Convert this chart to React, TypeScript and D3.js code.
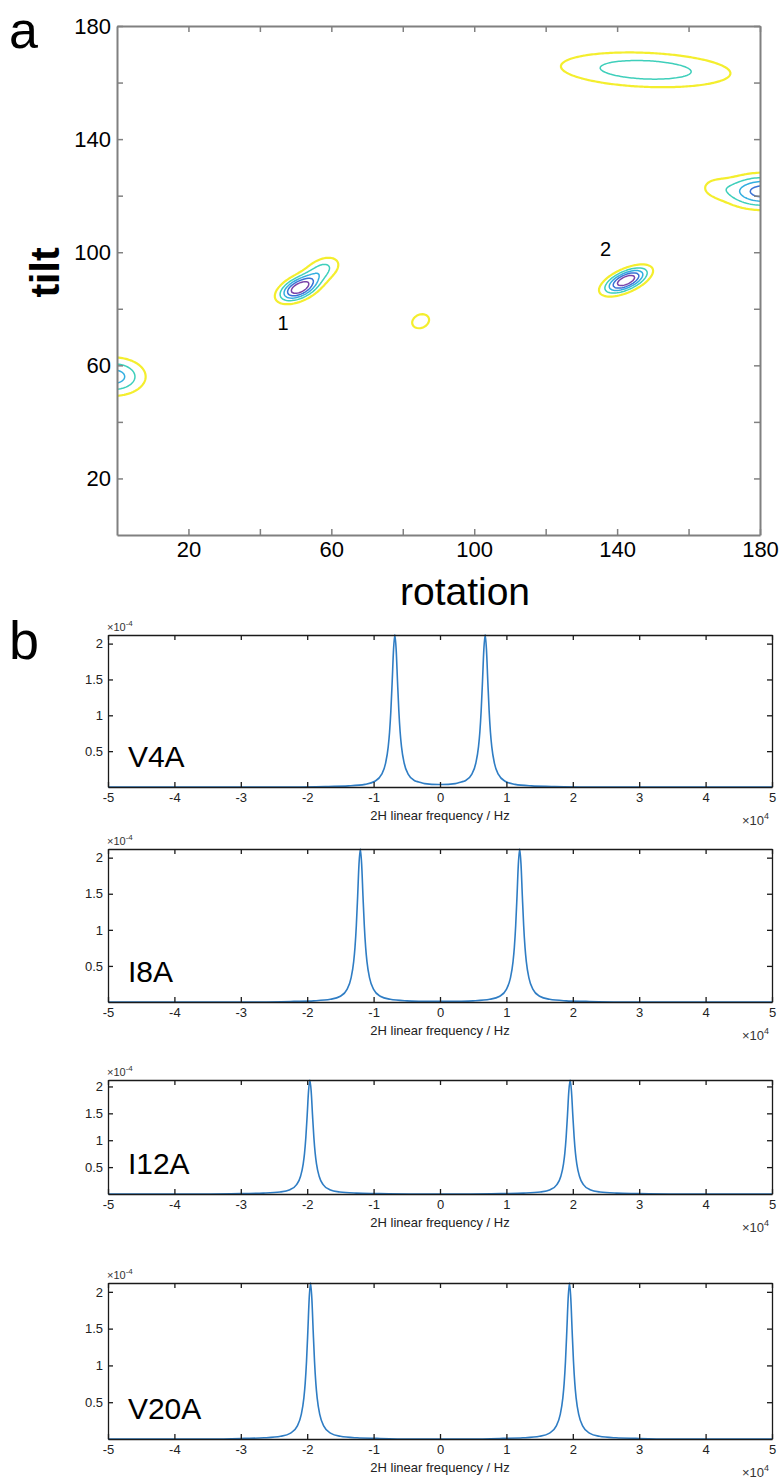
import React, { useEffect, useRef } from 'react'
import * as d3 from 'd3'

// panel a: orientation map, peaks given in (rotation, tilt) degrees
const peakRotation = [-1, 51, 57.5, 85, 142.5, 148, 181, 167]
const peakTilt = [56, 87.3, 94, 75.6, 90, 164.5, 121.5, 123]
const peakHeight = [3.5, 6, 2.2, 1.15, 6, 2.65, 4.6, 0.9]
const peakSpreadRotation = [5.7, 3.6, 3.5, 4.5, 4, 17, 7, 3.5]
const peakSpreadTilt = [4.3, 3.0, 3.2, 4.7, 3, 4.4, 3.8, 3]
const peakCorrelation = [0, 0.5, 0.4, 0.2, 0.6, -0.2, 0, 0]

const contourLevels = [1, 2, 3, 4, 5]
const contourColors = ['#f4ee2e', '#3fcfbb', '#33aee0', '#3a72d6', '#7a44a8']

const mapTicks = [20, 40, 60, 80, 100, 120, 140, 160, 180]
const mapTickLabels = [20, 60, 100, 140, 180]

const siteNames = ['1', '2']
const siteRotation = [46.5, 136.8]
const siteTilt = [72.4, 98.8]

// panel b: 2H spectra (frequency in 1e4 Hz, intensity in 1e-4)
const spectrumNames = ['V4A', 'I8A', 'I12A', 'V20A']
const splittings = [0.68, 1.2, 1.96, 1.95]
const lineOffset = [0, 0.02, 0.04, 0.06, 0.08, 0.1, 0.14, 0.2, 0.3, 0.45, 0.7, 1.0, 1.5]
const lineIntensity = [2.12, 1.91, 1.47, 1.06, 0.76, 0.56, 0.33, 0.175, 0.08, 0.037, 0.016, 0.008, 0]
const freqTicks = [-5, -4, -3, -2, -1, 0, 1, 2, 3, 4, 5]
const intensityTicks = [0.5, 1, 1.5, 2]

const panelTop = [635, 849, 1080, 1283]
const panelBottom = [787, 1002, 1194, 1439]

const FONT = 'Liberation Sans, Arial, Helvetica, sans-serif'

function mapValue (r, t) {
  let v = 0
  for (let k = 0; k < peakHeight.length; ++k) {
    const a = (r - peakRotation[k]) / peakSpreadRotation[k]
    const b = (t - peakTilt[k]) / peakSpreadTilt[k]
    const p = peakCorrelation[k]
    v += peakHeight[k] * Math.exp(-(a * a - 2 * p * a * b + b * b) / (2 * (1 - p * p)))
  }
  return v
}

function lineAt (d) {
  d = Math.abs(d)
  const last = lineOffset.length - 1
  if (d >= lineOffset[last]) return 0
  let k = 0
  while (lineOffset[k + 1] <= d) ++k
  const f = (d - lineOffset[k]) / (lineOffset[k + 1] - lineOffset[k])
  return lineIntensity[k] + f * (lineIntensity[k + 1] - lineIntensity[k])
}

function drawMap (svg) {
  const x = d3.scaleLinear().domain([0, 180]).range([117, 760])
  const y = d3.scaleLinear().domain([0, 180]).range([535, 26])

  const step = 0.5
  const r0 = -20
  const t0 = -10
  const n = 441
  const m = 401
  const values = new Array(n * m)
  for (let j = 0; j < m; ++j) {
    for (let i = 0; i < n; ++i) {
      values[j * n + i] = mapValue(r0 + i * step, t0 + j * step)
    }
  }
  const contours = d3.contours().size([n, m]).thresholds(contourLevels)(values)
  const projection = d3.geoTransform({
    point: function (px, py) {
      this.stream.point(x(r0 + (px - 0.5) * step), y(t0 + (py - 0.5) * step))
    }
  })
  const path = d3.geoPath(projection)

  svg.append('clipPath').attr('id', 'map-clip')
    .append('rect')
    .attr('x', x(0)).attr('y', y(180))
    .attr('width', x(180) - x(0)).attr('height', y(0) - y(180))

  svg.append('g')
    .attr('clip-path', 'url(#map-clip)')
    .selectAll('path')
    .data(contours)
    .join('path')
    .attr('d', path)
    .attr('fill', 'none')
    .attr('stroke', (d, i) => contourColors[i])
    .attr('stroke-width', (d, i) => i === 0 ? 2.2 : 1.5)

  const axisColor = '#808080'
  const styleAxis = g => {
    g.selectAll('.domain').attr('stroke', axisColor).attr('stroke-width', 2)
    g.selectAll('.tick line').attr('stroke', axisColor).attr('stroke-width', 1.5)
    g.selectAll('.tick text').attr('fill', '#000').attr('font-size', 22).attr('font-family', FONT)
  }
  const fmt = d => mapTickLabels.includes(d) ? String(d) : ''

  svg.append('g').attr('transform', `translate(0,${y(0)})`)
    .call(d3.axisBottom(x).tickValues(mapTicks).tickSize(-6).tickSizeOuter(0).tickPadding(6).tickFormat(fmt))
    .call(styleAxis)
  svg.append('g').attr('transform', `translate(0,${y(180)})`)
    .call(d3.axisTop(x).tickValues(mapTicks).tickSize(-6).tickSizeOuter(0).tickFormat(() => ''))
    .call(styleAxis)
  svg.append('g').attr('transform', `translate(${x(0)},0)`)
    .call(d3.axisLeft(y).tickValues(mapTicks).tickSize(-6).tickSizeOuter(0).tickPadding(6).tickFormat(fmt))
    .call(styleAxis)
  svg.append('g').attr('transform', `translate(${x(180)},0)`)
    .call(d3.axisRight(y).tickValues(mapTicks).tickSize(-6).tickSizeOuter(0).tickFormat(() => ''))
    .call(styleAxis)

  svg.append('g').selectAll('text')
    .data(siteNames)
    .join('text')
    .attr('x', (d, i) => x(siteRotation[i]))
    .attr('y', (d, i) => y(siteTilt[i]))
    .attr('text-anchor', 'middle')
    .attr('font-size', 20)
    .attr('font-family', FONT)
    .text(d => d)

  svg.append('text')
    .attr('transform', `translate(59,${(y(0) + y(180)) / 2 - 8}) rotate(-90)`)
    .attr('text-anchor', 'middle')
    .attr('font-size', 41)
    .attr('font-weight', 'bold')
    .attr('font-family', FONT)
    .text('tilt')

  svg.append('text')
    .attr('x', 465).attr('y', 605)
    .attr('text-anchor', 'middle')
    .attr('font-size', 39)
    .attr('font-family', FONT)
    .text('rotation')

  svg.append('text')
    .attr('x', 9).attr('y', 47.5)
    .attr('font-size', 52)
    .attr('font-family', FONT)
    .text('a')
}

function drawSpectra (svg) {
  const x = d3.scaleLinear().domain([-5, 5]).range([108, 772])
  const line = d3.line().curve(d3.curveMonotoneX)

  svg.append('text')
    .attr('x', 9).attr('y', 659)
    .attr('font-size', 54)
    .attr('font-family', FONT)
    .text('b')

  spectrumNames.forEach((name, i) => {
    const top = panelTop[i]
    const bottom = panelBottom[i]
    const y = d3.scaleLinear().domain([0, 2.12]).range([bottom, top])
    const g = svg.append('g')

    const centres = [-splittings[i], splittings[i]]
    const xs = [-5, 5]
    centres.forEach(c => lineOffset.forEach(o => { xs.push(c - o); xs.push(c + o) }))
    const pts = Array.from(new Set(xs.map(v => +v.toFixed(4))))
      .filter(v => v >= -5 && v <= 5)
      .sort((a, b) => a - b)
      .map(v => [x(v), y(d3.sum(centres, c => lineAt(v - c)))])

    g.append('path')
      .attr('d', line(pts))
      .attr('fill', 'none')
      .attr('stroke', '#2f7dc4')
      .attr('stroke-width', 1.6)

    const styleAxis = a => {
      a.selectAll('.domain').attr('stroke', '#1a1a1a').attr('stroke-width', 1.3)
      a.selectAll('.tick line').attr('stroke', '#1a1a1a').attr('stroke-width', 1.3)
      a.selectAll('.tick text').attr('fill', '#222').attr('font-size', 13).attr('font-family', FONT)
    }
    g.append('g').attr('transform', `translate(0,${bottom})`)
      .call(d3.axisBottom(x).tickValues(freqTicks).tickSize(-5).tickSizeOuter(0).tickPadding(6).tickFormat(d => String(d)))
      .call(styleAxis)
    g.append('g').attr('transform', `translate(0,${top})`)
      .call(d3.axisTop(x).tickValues(freqTicks).tickSize(-5).tickSizeOuter(0).tickFormat(() => ''))
      .call(styleAxis)
    g.append('g').attr('transform', `translate(${x(-5)},0)`)
      .call(d3.axisLeft(y).tickValues(intensityTicks).tickSize(-5).tickSizeOuter(0).tickPadding(5).tickFormat(d => String(d)))
      .call(styleAxis)
    g.append('g').attr('transform', `translate(${x(5)},0)`)
      .call(d3.axisRight(y).tickValues(intensityTicks).tickSize(-5).tickSizeOuter(0).tickFormat(() => ''))
      .call(styleAxis)

    const exp = g.append('text')
      .attr('x', x(-5) - 1).attr('y', top - 4)
      .attr('font-size', 11).attr('fill', '#333').attr('font-family', FONT)
    exp.append('tspan').text('×10')
    exp.append('tspan').attr('dy', -5).attr('font-size', 8).text('-4')

    const exp2 = g.append('text')
      .attr('x', x(5) - 8).attr('y', bottom + 38)
      .attr('text-anchor', 'end')
      .attr('font-size', 13).attr('fill', '#333').attr('font-family', FONT)
    exp2.append('tspan').text('×10')
    g.append('text')
      .attr('x', x(5) - 8).attr('y', bottom + 32)
      .attr('font-size', 9).attr('fill', '#333').attr('font-family', FONT)
      .text('4')

    g.append('text')
      .attr('x', x(0)).attr('y', bottom + 33)
      .attr('text-anchor', 'middle')
      .attr('font-size', 13).attr('fill', '#222').attr('font-family', FONT)
      .text('2H linear frequency / Hz')

    g.append('text')
      .attr('x', x(-4.7)).attr('y', bottom - 20)
      .attr('font-size', 30).attr('font-family', FONT)
      .text(name)
  })
}

export default function App () {
  const ref = useRef(null)

  useEffect(() => {
    const svg = d3.select(ref.current)
    svg.selectAll('*').remove()
    drawMap(svg)
    drawSpectra(svg)
  }, [])

  return (
    <svg ref={ref} width={782} height={1482}
      style={{ position: 'absolute', left: 0, top: 0, background: '#fff' }} />
  )
}
